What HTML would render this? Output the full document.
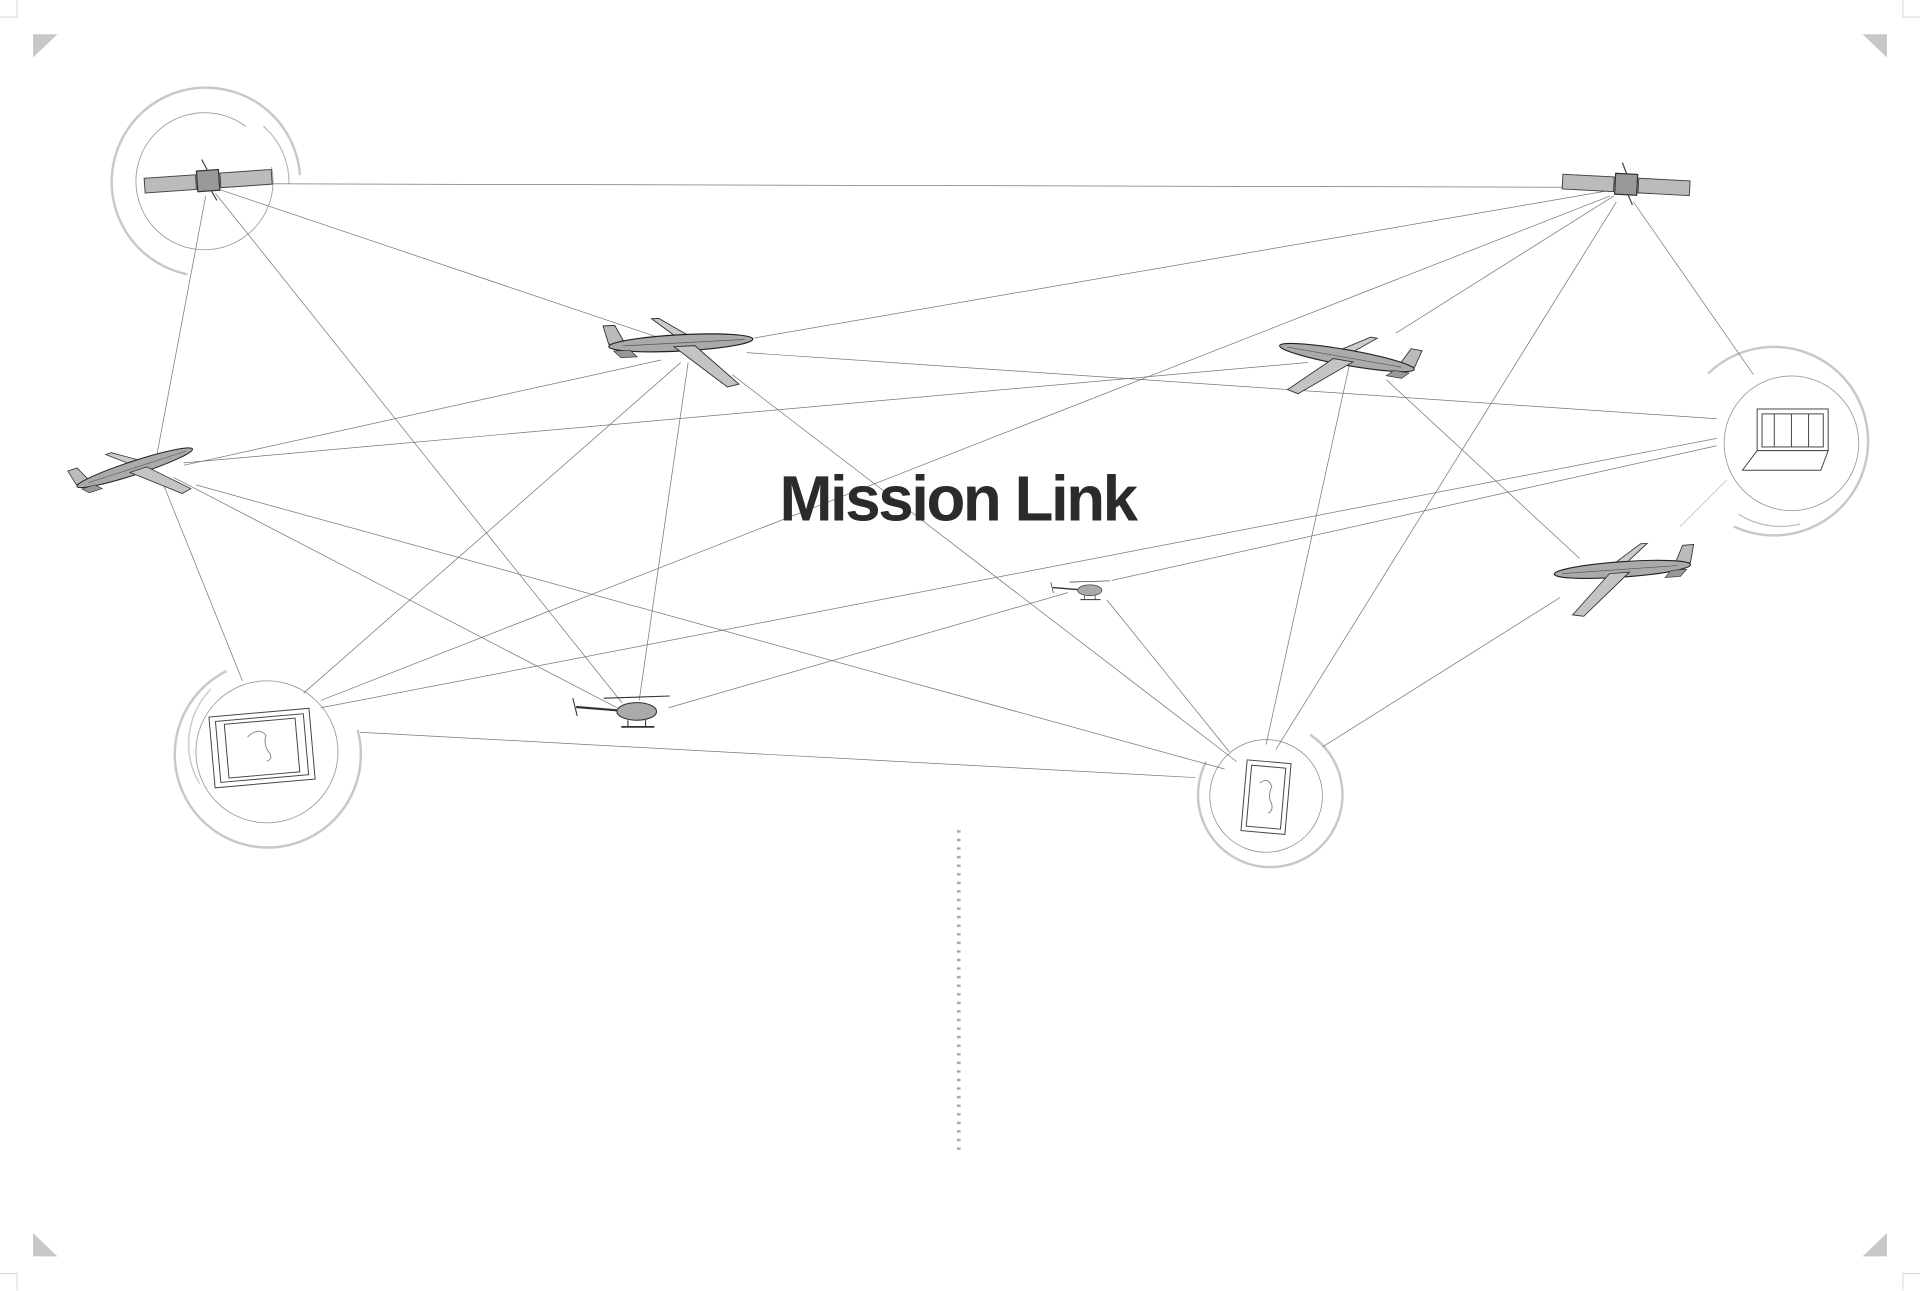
<!DOCTYPE html>
<html><head><meta charset="utf-8"><style>
html,body{margin:0;padding:0;background:#fff;}
svg{display:block;}
</style></head><body>
<svg width="1920" height="1291" viewBox="0 0 1568 1054.3" xmlns="http://www.w3.org/2000/svg">
<defs>
<g id="jet">
  <polygon points="-62,-2 -48,-2 -56,-18 -66,-18" fill="#bbb" stroke="#333" stroke-width="0.8"/>
  <polygon points="-2,-4 10,-4 -18,-22 -24,-22" fill="#ccc" stroke="#333" stroke-width="0.8"/>
  <ellipse cx="0" cy="0" rx="62" ry="7" fill="#aaa" stroke="#222" stroke-width="1"/>
  <line x1="-50" y1="0" x2="55" y2="0" stroke="#555" stroke-width="0.6"/>
  <polygon points="-6,3 12,3 48,38 38,40" fill="#c4c4c4" stroke="#333" stroke-width="0.8"/>
  <polygon points="-58,4 -44,4 -38,10 -52,10" fill="#999" stroke="#333" stroke-width="0.6"/>
</g>
<g id="sat">
  <rect x="-52" y="-6" width="42" height="12" fill="#bbb" stroke="#444" stroke-width="0.8"/>
  <rect x="10" y="-6" width="42" height="12" fill="#bbb" stroke="#444" stroke-width="0.8"/>
  <rect x="-9" y="-9" width="18" height="17" fill="#999" stroke="#333" stroke-width="1"/>
  <line x1="0" y1="-9" x2="-4" y2="-18" stroke="#444"/>
  <line x1="2" y1="8" x2="6" y2="16" stroke="#444"/>
</g>
<g id="heli">
  <ellipse cx="0" cy="0" rx="18" ry="8" fill="#aaa" stroke="#333"/>
  <line x1="-18" y1="-1" x2="-55" y2="-4" stroke="#333" stroke-width="2"/>
  <line x1="-58" y1="-12" x2="-54" y2="4" stroke="#333"/>
  <line x1="-30" y1="-12" x2="30" y2="-14" stroke="#333"/>
  <line x1="-14" y1="14" x2="16" y2="14" stroke="#333" stroke-width="1.5"/>
  <line x1="-8" y1="8" x2="-8" y2="14" stroke="#333"/>
  <line x1="8" y1="8" x2="8" y2="14" stroke="#333"/>
</g>
</defs>

<polygon points="27,28 47,28 27,47" fill="#c8c8c8"/>
<polygon points="1541,28 1521,28 1541,47" fill="#c8c8c8"/>
<polygon points="27,1026 47,1026 27,1007" fill="#c8c8c8"/>
<polygon points="1541,1026 1521,1026 1541,1007" fill="#c8c8c8"/>
<path d="M0,14 H14 V0" fill="none" stroke="#ddd"/>
<path d="M1568,14 H1554 V0" fill="none" stroke="#ddd"/>
<path d="M0,1040 H14 V1054" fill="none" stroke="#ddd"/>
<path d="M1568,1040 H1554 V1054" fill="none" stroke="#ddd"/>

<g fill="none">
  <circle cx="167" cy="148" r="56" stroke="#999" stroke-width="0.7" stroke-dasharray="300 40"/>
  <path d="M153,224 A77,77 0 1 1 245,143" stroke="#c8c8c8" stroke-width="2"/>
  <path d="M215,103 A60,60 0 0 1 236,150" stroke="#bbb" stroke-width="1"/>
  <circle cx="218" cy="614" r="58" stroke="#999" stroke-width="0.7"/>
  <path d="M185,548 A76,76 0 1 0 292,596" stroke="#c8c8c8" stroke-width="2"/>
  <path d="M172,563 A64,64 0 0 0 163,640" stroke="#ccc" stroke-width="1.2"/>
  <circle cx="1034" cy="650" r="46" stroke="#999" stroke-width="0.7"/>
  <path d="M1070,600 A59,59 0 1 1 985,622" stroke="#c8c8c8" stroke-width="2"/>
  <circle cx="1463" cy="362" r="55" stroke="#999" stroke-width="0.7"/>
  <path d="M1395,305 A77,77 0 1 1 1416,430" stroke="#c8c8c8" stroke-width="2"/>
  <path d="M1420,420 A64,64 0 0 0 1470,428" stroke="#bbb" stroke-width="1"/>
</g>

<g stroke="#777" stroke-width="0.6" fill="none">
  <line x1="175" y1="150" x2="1318" y2="153"/>
  <line x1="180" y1="155" x2="545" y2="278"/>
  <line x1="168" y1="160" x2="128" y2="372"/>
  <line x1="176" y1="158" x2="508" y2="574"/>
  <line x1="1312" y1="156" x2="616" y2="276"/>
  <line x1="1318" y1="160" x2="1140" y2="272"/>
  <line x1="1315" y1="160" x2="262" y2="572"/>
  <line x1="1320" y1="165" x2="1042" y2="612"/>
  <line x1="1334" y1="165" x2="1432" y2="306"/>
  <line x1="610" y1="288" x2="1402" y2="342"/>
  <line x1="562" y1="296" x2="522" y2="572"/>
  <line x1="556" y1="296" x2="248" y2="566"/>
  <line x1="598" y1="306" x2="1010" y2="622"/>
  <line x1="150" y1="378" x2="1068" y2="296"/>
  <line x1="150" y1="380" x2="540" y2="294"/>
  <line x1="142" y1="390" x2="504" y2="578"/>
  <line x1="160" y1="396" x2="1000" y2="628"/>
  <line x1="132" y1="392" x2="198" y2="556"/>
  <line x1="1102" y1="298" x2="1034" y2="608"/>
  <line x1="1132" y1="310" x2="1290" y2="456"/>
  <line x1="262" y1="578" x2="1402" y2="358"/>
  <line x1="294" y1="598" x2="976" y2="635"/>
  <line x1="546" y1="578" x2="872" y2="484"/>
  <line x1="908" y1="474" x2="1402" y2="364"/>
  <line x1="904" y1="490" x2="1004" y2="614"/>
  <line x1="1274" y1="488" x2="1080" y2="610"/>
  <line x1="1410" y1="392" x2="1372" y2="430" stroke="#bbb"/>
</g>

<line x1="783" y1="678" x2="783" y2="944" stroke="#aaa" stroke-width="3" stroke-dasharray="2 5"/>

<use href="#sat" transform="translate(170,148) rotate(-4)"/>
<use href="#sat" transform="translate(1328,151) rotate(3)"/>
<use href="#jet" transform="translate(556,280) rotate(-3) scale(0.95)"/>
<use href="#jet" transform="translate(110,382) rotate(-18) scale(0.8)"/>
<use href="#jet" transform="translate(1100,292) scale(-0.9,0.9) rotate(-10)"/>
<use href="#jet" transform="translate(1325,465) scale(-0.9,0.9) rotate(4)"/>
<use href="#heli" transform="translate(520,581) scale(0.9)"/>
<use href="#heli" transform="translate(890,482) scale(0.55)"/>

<g transform="translate(213,611) rotate(-5)" fill="none" stroke="#444" stroke-width="0.8">
  <rect x="-40" y="-29" width="82" height="58" fill="#fff"/>
  <rect x="-35" y="-25" width="72" height="50"/>
  <rect x="-28" y="-22" width="58" height="44"/>
  <path d="M-10,-10 q10,-8 15,0 q-3,8 2,15 q2,5 -3,6" stroke="#888"/>
</g>
<g transform="translate(1034,650) rotate(5)" fill="none" stroke="#444" stroke-width="0.8">
  <rect x="-18" y="-28" width="36" height="58" fill="#fff"/>
  <rect x="-14" y="-24" width="28" height="50"/>
  <path d="M-6,-10 q6,-6 10,2 q-3,8 1,14 q2,5 -2,8" stroke="#888"/>
</g>
<g transform="translate(1463,360)" fill="none" stroke="#444" stroke-width="0.8">
  <rect x="-28" y="-26" width="58" height="34" fill="#fff"/>
  <rect x="-24" y="-22" width="50" height="27"/>
  <line x1="-14" y1="-22" x2="-14" y2="5"/><line x1="0" y1="-22" x2="0" y2="5"/><line x1="14" y1="-22" x2="14" y2="5"/>
  <polygon points="-28,8 30,8 24,24 -40,24" fill="#fff"/>
</g>

<text x="782" y="425" text-anchor="middle" font-family="Liberation Sans, Arial, sans-serif" font-weight="bold" font-size="52" letter-spacing="-2" fill="#2b2b2b">Mission Link</text>
</svg>
</body></html>
